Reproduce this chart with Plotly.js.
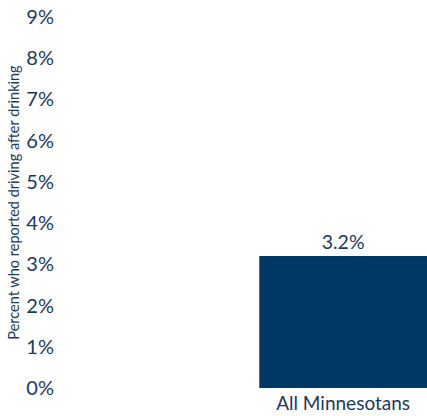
<!DOCTYPE html>
<html>
<head>
<meta charset="utf-8">
<script src="https://cdn.plot.ly/plotly-3.0.1.min.js"></script>
<style>html,body{margin:0;padding:0;background:#fff;}#chart{width:427px;height:416px;}</style>
</head>
<body>
<div id="chart"></div>
<script>
var categories = ["All Minnesotans"];
var values = [3.2];
var valueLabels = ["3.2%"];
var tickVals = [0, 1, 2, 3, 4, 5, 6, 7, 8, 9];
var tickText = ["0%", "1%", "2%", "3%", "4%", "5%", "6%", "7%", "8%", "9%"];

var textColor = "#1b3a5e";
var fontFam = "Lato, 'Open Sans', sans-serif";

var trace = {
  type: "bar",
  x: categories,
  y: values,
  text: valueLabels,
  textposition: "outside",
  cliponaxis: false,
  textfont: {family: fontFam, size: 19.5, color: textColor},
  marker: {color: "#003865"},
  width: 0.9,
  hoverinfo: "none"
};

var layout = {
  width: 427,
  height: 416,
  margin: {l: 58, r: 0, t: 17, b: 28, pad: 0},
  paper_bgcolor: "#ffffff",
  plot_bgcolor: "#ffffff",
  showlegend: false,
  font: {family: fontFam, color: textColor},
  xaxis: {
    type: "category",
    range: [-1.53, 0.45],
    showgrid: false,
    zeroline: false,
    showline: false,
    ticks: "",
    ticklabelstandoff: 2,
    tickfont: {family: fontFam, size: 19, color: textColor},
    automargin: false
  },
  yaxis: {
    range: [0, 9],
    tickvals: tickVals,
    ticktext: tickText,
    showgrid: false,
    zeroline: false,
    showline: false,
    ticks: "",
    ticklabelstandoff: 3,
    tickfont: {family: fontFam, size: 20, color: textColor},
    title: {text: "Percent who reported driving after drinking", font: {family: fontFam, size: 14.5, color: textColor}, standoff: 3},
    automargin: false
  }
};

Plotly.newPlot("chart", [trace], layout, {displayModeBar: false, staticPlot: true});
</script>
</body>
</html>
